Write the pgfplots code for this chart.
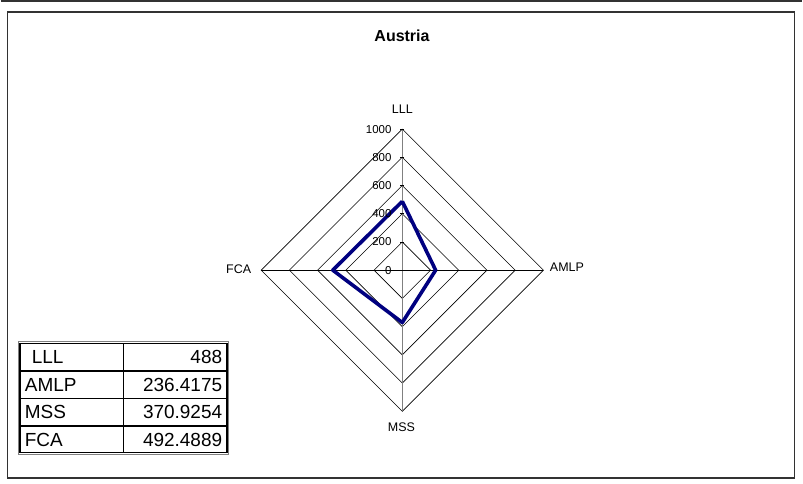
\documentclass[border=0pt]{standalone}
\usepackage{fontspec}
\setmainfont{Liberation Sans}
\usepackage{pgfplots}
\pgfplotsset{compat=1.18}
\definecolor{navyline}{RGB}{0,0,128}
\definecolor{framegray}{RGB}{50,50,50}
\definecolor{axgray}{RGB}{128,128,128}
\begin{document}
\begin{tikzpicture}
\fill[white] (0pt,0pt) rectangle (803pt,484pt);
\begin{axis}[
  at={(0pt,0pt)}, anchor=south west,
  scale only axis, width=803pt, height=484pt,
  xmin=-2845, xmax=2834, ymin=-1508.5, ymax=1914.4,
  hide axis, clip=false,
]
% grid diamonds
\addplot[black, line width=0.6pt] coordinates {(0,200) (200,0) (0,-200) (-200,0) (0,200)};
\addplot[black, line width=0.6pt] coordinates {(0,400) (400,0) (0,-400) (-400,0) (0,400)};
\addplot[black, line width=0.6pt] coordinates {(0,600) (600,0) (0,-600) (-600,0) (0,600)};
\addplot[black, line width=0.6pt] coordinates {(0,800) (800,0) (0,-800) (-800,0) (0,800)};
\addplot[black, line width=0.6pt] coordinates {(0,1000) (1000,0) (0,-1000) (-1000,0) (0,1000)};
% spokes
\addplot[black, line width=0.7pt] coordinates {(-1000,0) (1000,0)};
\addplot[axgray, line width=1.2pt] coordinates {(0,-1000) (0,1000)};
% ticks on value axis
\addplot[black, line width=0.6pt] coordinates {(-14,0) (14,0)};
\addplot[black, line width=0.6pt] coordinates {(-14,200) (14,200)};
\addplot[black, line width=0.6pt] coordinates {(-14,400) (14,400)};
\addplot[black, line width=0.6pt] coordinates {(-14,600) (14,600)};
\addplot[black, line width=0.6pt] coordinates {(-14,800) (14,800)};
\addplot[black, line width=0.6pt] coordinates {(-14,1000) (14,1000)};
% data
\addplot[navyline, line width=3.6pt, line join=round] coordinates {(0,488) (236.4175,0) (0,-370.9254) (-492.4889,0) (0,488)};
% tick labels
\foreach \v in {0,200,400,600,800,1000} {
  \edef\temp{\noexpand\node[anchor=east, inner sep=0pt, font=\noexpand\fontsize{11.5}{12}\noexpand\selectfont] at (axis cs:-75,\v) {\v};}
  \temp
}
\end{axis}
% outer lines
\draw[framegray, line width=1.5pt] (0pt,483.2pt) -- (803pt,483.2pt);
\draw[framegray, line width=1.3pt] (7pt,472pt) rectangle (795pt,5pt);
% title
\node[font=\fontsize{16}{18}\selectfont\bfseries] at (402pt,448.5pt) {Austria};
% category labels
\node[font=\fontsize{12.5}{14}\selectfont] at (402.3pt,374.5pt) {LLL};
\node[anchor=west, inner sep=0pt, font=\fontsize{12.5}{14}\selectfont] at (550pt,216pt) {AMLP};
\node[anchor=east, inner sep=0pt, font=\fontsize{12.5}{14}\selectfont] at (251pt,214pt) {FCA};
\node[font=\fontsize{12.5}{14}\selectfont] at (401.5pt,56pt) {MSS};
% data table
\draw[axgray, line width=0.8pt] (17.5pt,141.5pt) rectangle (228.5pt,28.5pt);
\draw[black, line width=1.2pt] (19.3pt,139.7pt) rectangle (226.7pt,30.3pt);
\draw[black, line width=1.2pt] (123.3pt,139.7pt) -- (123.3pt,30.3pt);
\draw[black, line width=1.2pt] (19.3pt,112.3pt) -- (226.7pt,112.3pt);
\draw[black, line width=1.2pt] (19.3pt,85pt) -- (226.7pt,85pt);
\draw[black, line width=1.2pt] (19.3pt,57.3pt) -- (226.7pt,57.3pt);
\begin{scope}[every node/.style={inner sep=0pt, font=\fontsize{19}{21}\selectfont}]
\node[anchor=west] at (31pt,126.5pt) {LLL};
\node[anchor=west] at (24pt,98.6pt) {AMLP};
\node[anchor=west] at (24pt,71.1pt) {MSS};
\node[anchor=west] at (24pt,43.5pt) {FCA};
\node[anchor=east] at (222pt,126.5pt) {488};
\node[anchor=east] at (222pt,98.6pt) {236.4175};
\node[anchor=east] at (222pt,71.1pt) {370.9254};
\node[anchor=east] at (222pt,43.5pt) {492.4889};
\end{scope}
\end{tikzpicture}
\end{document}
